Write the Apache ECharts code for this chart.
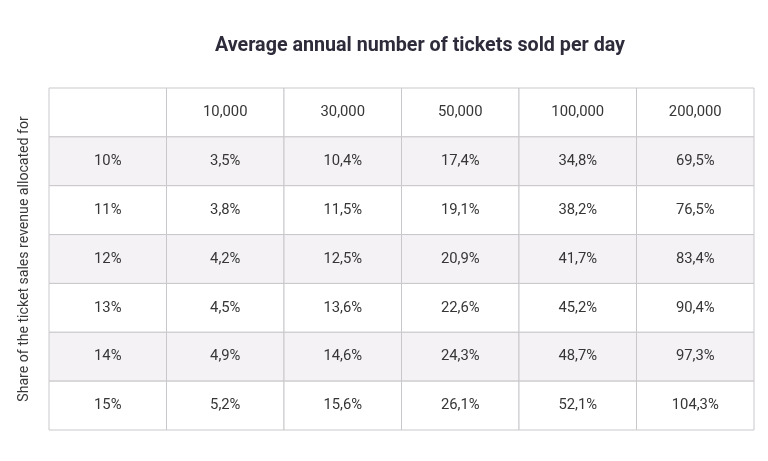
<!DOCTYPE html>
<html><head><meta charset="utf-8">
<script src="https://cdn.jsdelivr.net/npm/echarts@6/dist/echarts.min.js"></script>
<style>html,body{margin:0;padding:0;background:#fff}#c{width:768px;height:461px}</style>
</head><body><div id="c"></div>
<script>
var columns = ['10,000', '30,000', '50,000', '100,000', '200,000'];
var rowLabels = ['10%', '11%', '12%', '13%', '14%', '15%'];
var values = [
  ['3,5%', '10,4%', '17,4%', '34,8%', '69,5%'],
  ['3,8%', '11,5%', '19,1%', '38,2%', '76,5%'],
  ['4,2%', '12,5%', '20,9%', '41,7%', '83,4%'],
  ['4,5%', '13,6%', '22,6%', '45,2%', '90,4%'],
  ['4,9%', '14,6%', '24,3%', '48,7%', '97,3%'],
  ['5,2%', '15,6%', '26,1%', '52,1%', '104,3%']
];
var title = 'Average annual number of tickets sold per day';
var sideLabel = 'Share of the ticket sales revenue allocated for';

var xCats = ['c0', 'c1', 'c2', 'c3', 'c4', 'c5'];
var yCats = ['r0', 'r1', 'r2', 'r3', 'r4', 'r5', 'r6'];
var cells = [];
cells.push([0, 0, '', 0]);
columns.forEach(function (c, i) { cells.push([i + 1, 0, c, 0]); });
rowLabels.forEach(function (r, j) {
  var shade = (j % 2 === 0) ? 1 : 0;
  cells.push([0, j + 1, r, shade]);
  values[j].forEach(function (v, i) { cells.push([i + 1, j + 1, v, shade]); });
});

var chart = echarts.init(document.getElementById('c'));
chart.setOption({
  animation: false,
  textStyle: { fontFamily: 'Roboto' },
  title: {
    text: title, left: 415, top: 31, textAlign: 'center',
    textStyle: { fontFamily: 'Roboto', fontSize: 19.7, fontWeight: 'bold', color: '#2e2b3a' }
  },
  grid: { left: 49, right: 14, top: 88, bottom: 31 },
  xAxis: { type: 'category', data: xCats, show: false },
  yAxis: {
    type: 'category', data: yCats, inverse: true,
    name: sideLabel, nameLocation: 'middle', nameRotate: 90, nameGap: 18,
    nameTextStyle: { fontFamily: 'Roboto', fontSize: 14.1, color: '#3a3a3a' },
    axisLine: { show: false }, axisTick: { show: false }, axisLabel: { show: false }, splitLine: { show: false }
  },
  series: [{
    type: 'custom',
    data: cells,
    renderItem: function (params, api) {
      var p = api.coord([api.value(0), api.value(1)]);
      var s = api.size([1, 1]);
      var shade = api.value(3);
      return {
        type: 'group',
        children: [{
          type: 'rect',
          shape: { x: p[0] - s[0] / 2, y: p[1] - s[1] / 2, width: s[0], height: s[1] },
          style: { fill: shade ? '#f4f2f5' : '#ffffff', stroke: '#c9c7cb', lineWidth: 1 }
        }, {
          type: 'text',
          style: {
            x: p[0], y: p[1], text: cells[params.dataIndex][2],
            align: 'center', verticalAlign: 'middle',
            fontFamily: 'Roboto', fontSize: 14.8, fill: '#363636'
          }
        }]
      };
    }
  }]
});
</script></body></html>
